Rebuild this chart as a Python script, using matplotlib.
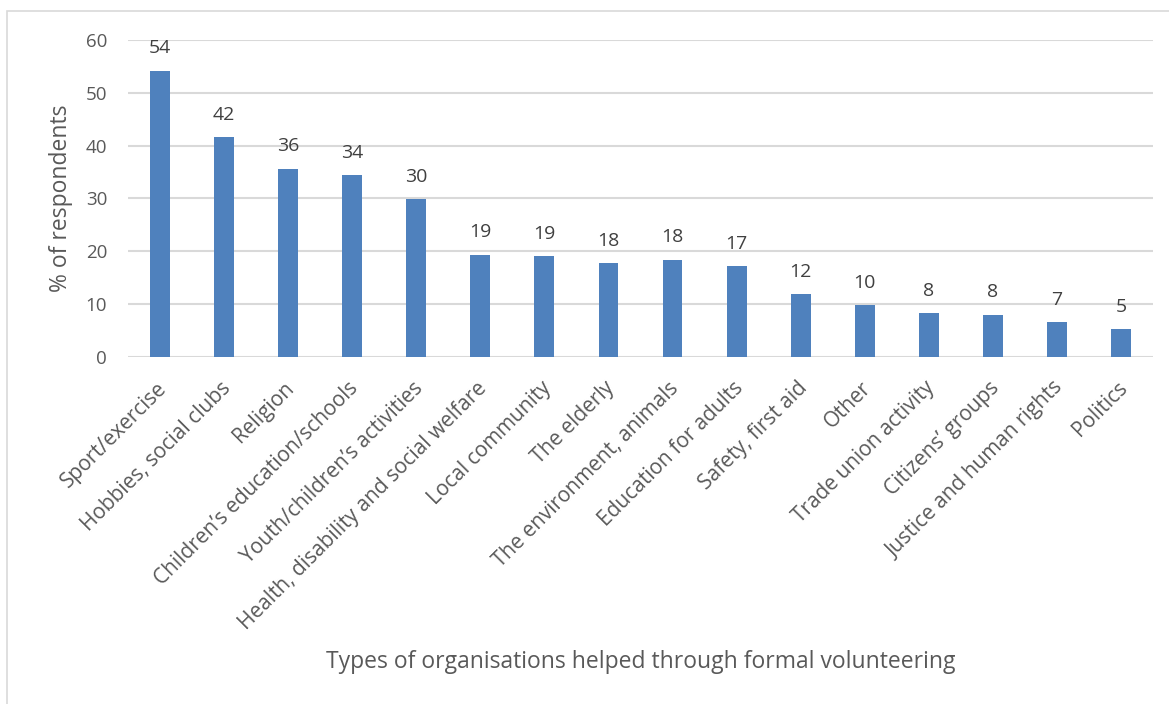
import matplotlib.pyplot as plt
import numpy as np
from matplotlib.patches import Rectangle
from matplotlib.transforms import ScaledTranslation

categories = ['Sport/exercise', 'Hobbies, social clubs', 'Religion',
              'Children\u2019s education/schools', 'Youth/children\u2019s activities',
              'Health, disability and social welfare', 'Local community',
              'The elderly', 'The environment, animals', 'Education for adults',
              'Safety, first aid', 'Other', 'Trade union activity',
              'Citizens\u2019 groups', 'Justice and human rights', 'Politics']
values = [54.2, 41.6, 35.6, 34.4, 29.9, 19.3, 19.0, 17.7, 18.4, 17.2,
          11.9, 9.8, 8.2, 7.95, 6.6, 5.2]
yticks = [0, 10, 20, 30, 40, 50, 60]

plt.rcParams['font.family'] = ['Open Sans', 'DejaVu Sans']
grey = '#595959'

fig = plt.figure(figsize=(11.69, 7.04), dpi=100)
ax = fig.add_axes([0.1095, 0.4933, 0.8768, 0.4499])

x = np.arange(len(categories))
ax.bar(x, values, width=0.31, color='#4F81BD', zorder=3)

for xi, v in zip(x, values):
    ax.annotate('%.0f' % v, (xi, v), xytext=(0, 12.5), textcoords='offset points',
                ha='center', va='baseline', fontsize=14, color='#404040',
                annotation_clip=False)

ax.set_xlim(-0.5, len(categories) - 0.5)
ax.set_ylim(0, 60)
ax.set_yticks(yticks)
ax.set_yticklabels([str(t) for t in yticks], fontsize=13.5, color=grey)
ax.set_xticks(x)
ax.set_xticklabels(categories, rotation=45, ha='right', rotation_mode='anchor',
                   fontsize=15, color=grey)
ax.tick_params(axis='both', length=0)
ax.tick_params(axis='y', pad=15)
ax.tick_params(axis='x', pad=15)
for lab in ax.get_xticklabels():
    lab.set_transform(lab.get_transform() + ScaledTranslation(-3 / 72, 0, fig.dpi_scale_trans))
ax.yaxis.grid(True, color='#D9D9D9', linewidth=1.5, zorder=0)
for s in ax.spines.values():
    s.set_visible(False)

ax.set_ylabel('% of respondents', fontsize=16.5, color=grey, labelpad=9)
fig.text(0.548, 0.06, 'Types of organisations helped through formal volunteering',
         ha='center', va='center', fontsize=16.5, color=grey)

# chart border (only left and top edges fall inside the image)
fig.patches.append(Rectangle((0.006, -0.05), 1.1, 0.05 + 0.984, transform=fig.transFigure,
                             fill=False, edgecolor='#D9D9D9', linewidth=1.2))

fig.savefig('out.png', dpi=100)
